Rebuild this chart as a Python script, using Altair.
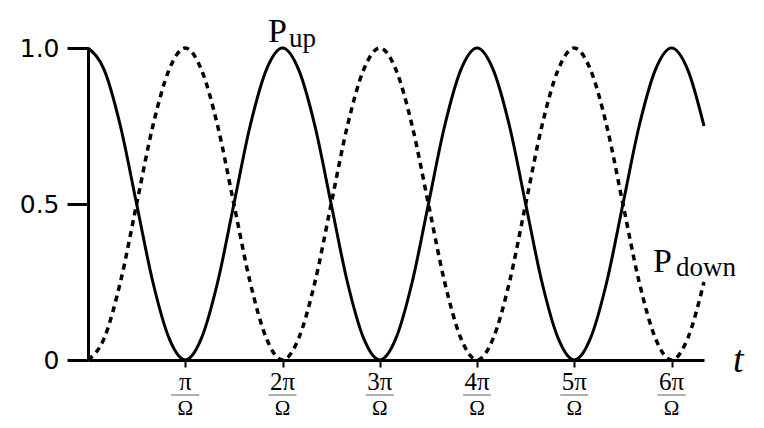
import altair as alt
import pandas as pd

# time in units of pi/(6*Omega)
T = list(range(39))
P_UP = [1.0, 0.93, 0.75, 0.5, 0.25, 0.07, 0.0, 0.07, 0.25, 0.5, 0.75, 0.93,
        1.0, 0.93, 0.75, 0.5, 0.25, 0.07, 0.0, 0.07, 0.25, 0.5, 0.75, 0.93,
        1.0, 0.93, 0.75, 0.5, 0.25, 0.07, 0.0, 0.07, 0.25, 0.5, 0.75, 0.93,
        1.0, 0.93, 0.75]
P_DOWN = [0.0, 0.07, 0.25, 0.5, 0.75, 0.93, 1.0, 0.93, 0.75, 0.5, 0.25, 0.07,
          0.0, 0.07, 0.25, 0.5, 0.75, 0.93, 1.0, 0.93, 0.75, 0.5, 0.25, 0.07,
          0.0, 0.07, 0.25, 0.5, 0.75, 0.93, 1.0, 0.93, 0.75, 0.5, 0.25, 0.07,
          0.0, 0.07, 0.25]
TICK_T = [6, 12, 18, 24, 30, 36]
TICK_NUM = ["π", "2π", "3π", "4π", "5π", "6π"]
TICK_DEN = ["Ω", "Ω", "Ω", "Ω", "Ω", "Ω"]
Y_TICKS = [0, 0.5, 1.0]

df = pd.DataFrame({"t": T, "up": P_UP, "down": P_DOWN})
ticks = pd.DataFrame({"t": TICK_T, "num": TICK_NUM, "den": TICK_DEN})

xs = alt.Scale(domain=[0, 38], nice=False, zero=False)
ys = alt.Scale(domain=[0, 1], nice=False)

base = alt.Chart(df)
x_enc = alt.X("t:Q", scale=xs,
              axis=alt.Axis(values=TICK_T, labels=False, title=None, grid=False,
                            domainWidth=3, domainColor="black", tickColor="black",
                            tickWidth=2, tickSize=7))
y_enc_axis = alt.Axis(values=Y_TICKS, title=None, grid=False,
                      labelExpr="datum.value == 0 ? '0' : format(datum.value, '.1f')",
                      labelFont="DejaVu Sans", labelFontSize=25, labelColor="black",
                      labelPadding=8, domainWidth=3, domainColor="black",
                      tickColor="black", tickWidth=3, tickSize=21)

up_line = base.mark_line(color="black", strokeWidth=3, interpolate="monotone").encode(
    x=x_enc, y=alt.Y("up:Q", scale=ys, axis=y_enc_axis))
down_line = base.mark_line(color="black", strokeWidth=3.5, strokeDash=[6, 5],
                           interpolate="monotone").encode(
    x=alt.X("t:Q", scale=xs), y=alt.Y("down:Q", scale=ys))

tk = alt.Chart(ticks)
num = tk.mark_text(font="Liberation Serif", fontSize=25, color="black",
                   baseline="alphabetic").encode(
    x=alt.X("t:Q", scale=xs), y=alt.value(342), text="num:N")
bar = tk.mark_tick(orient="horizontal", size=28, thickness=1.5, color="#666").encode(
    x=alt.X("t:Q", scale=xs), y=alt.value(347))
den = tk.mark_text(font="Liberation Serif", fontSize=21, color="black",
                   baseline="alphabetic").encode(
    x=alt.X("t:Q", scale=xs), y=alt.value(367), text="den:N")

def label(txt, x, y, size, style="normal"):
    return alt.Chart(pd.DataFrame({"s": [txt]})).mark_text(
        font="Liberation Serif", fontSize=size, fontStyle=style, color="black",
        align="left", baseline="alphabetic").encode(
        x=alt.value(x), y=alt.value(y), text="s:N")

labels = [
    label("P", 180, -6, 34),
    label("up", 201, -1, 27),
    label("P", 565, 224, 34),
    label("down", 588, 228, 27),
    label("t", 645, 324, 38, "italic"),
]

chart = alt.layer(up_line, down_line, num, bar, den, *labels).properties(
    width=616, height=312,
    background="white",
    autosize=alt.AutoSizeParams(type="none"),
    padding={"left": 88, "top": 48, "right": 60, "bottom": 68},
).configure_view(strokeWidth=0, stroke="transparent")

chart.save("out.html", embed_options={"renderer": "svg", "actions": False})
